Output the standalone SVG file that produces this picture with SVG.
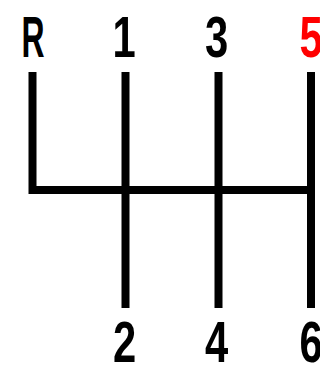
<svg xmlns="http://www.w3.org/2000/svg" width="320" height="365" viewBox="0 0 320 365">
<style>
.lbl{font-family:"Liberation Sans",Arial,sans-serif;font-weight:bold;font-size:58px;text-anchor:middle;fill:#000}
.red{fill:#ff0000}
.ln{stroke:#000;stroke-width:8;fill:none;stroke-linejoin:miter;stroke-linecap:butt}
</style>
<rect width="320" height="365" fill="#fff"/>
<g id="connectors">
<path class="ln" d="M32.5 72 V190 H315"/>
<path class="ln" d="M125.5 72 V308"/>
<path class="ln" d="M218.5 72 V308"/>
<path class="ln" d="M311 72 V308"/>
</g>
<g id="gear-R"><text class="lbl" transform="translate(33,57) scale(0.55,1)">R</text></g>
<g id="gear-1"><text class="lbl" transform="translate(124,57) scale(0.72,1)">1</text></g>
<g id="gear-3"><text class="lbl" transform="translate(216.5,57) scale(0.72,1)">3</text></g>
<g id="gear-5"><text class="lbl red" transform="translate(311,57) scale(0.72,1)">5</text></g>
<g id="gear-2"><text class="lbl" transform="translate(124.5,362) scale(0.72,1)">2</text></g>
<g id="gear-4"><text class="lbl" transform="translate(216.5,362) scale(0.72,1)">4</text></g>
<g id="gear-6"><text class="lbl" transform="translate(311,362) scale(0.72,1)">6</text></g>
</svg>
